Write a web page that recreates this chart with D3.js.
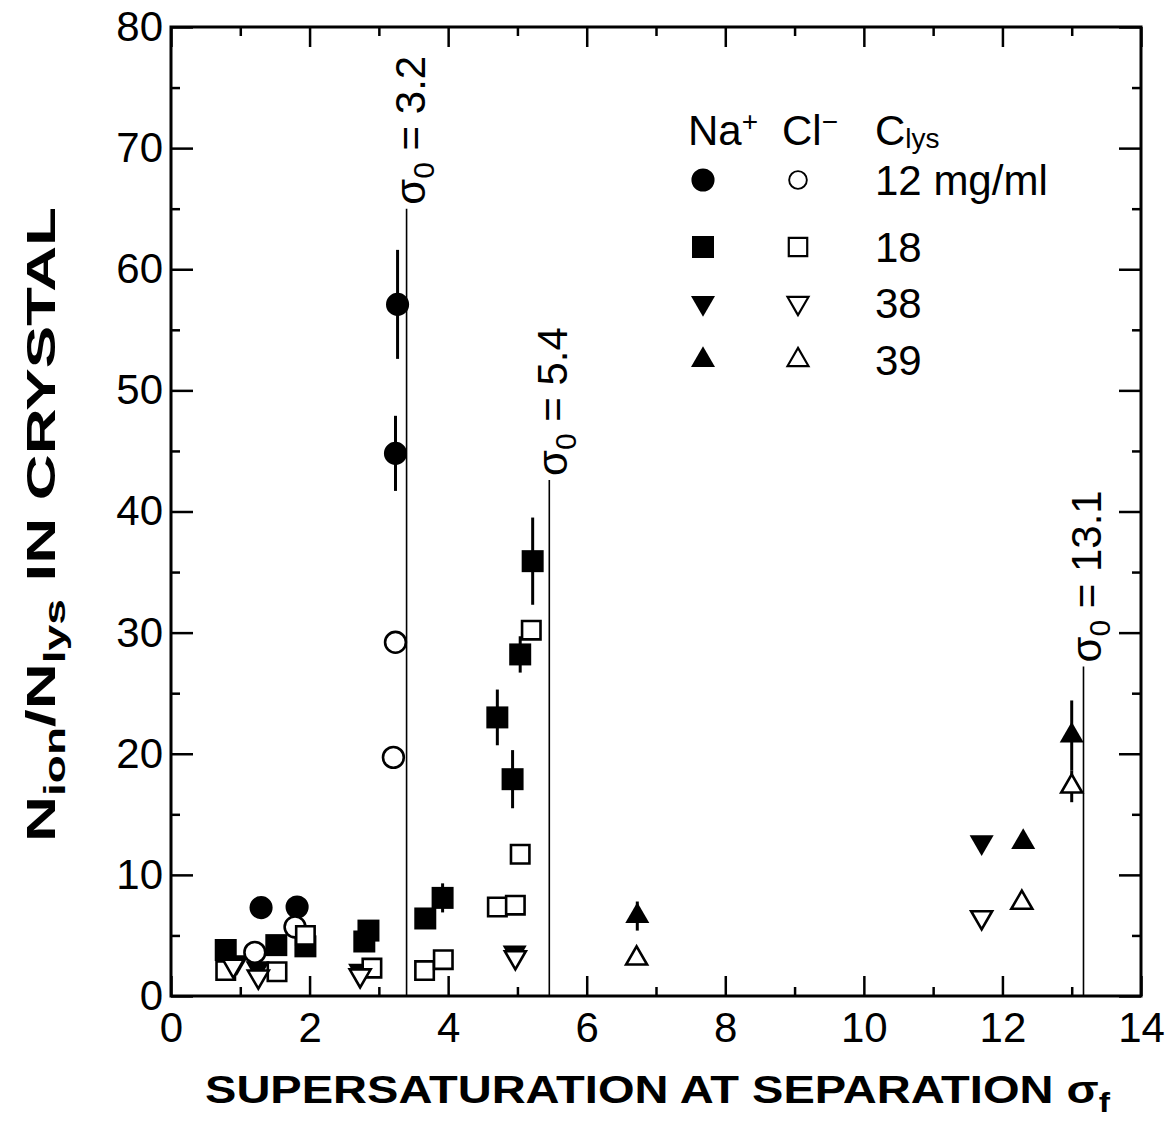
<!DOCTYPE html>
<html>
<head>
<meta charset="utf-8">
<script src="https://cdn.jsdelivr.net/npm/d3@7"></script>
<style>
  body { margin: 0; background: #fff; }
  text { font-family: "Liberation Sans", Arial, sans-serif; fill: #000; }
</style>
</head>
<body>
<div id="wrapper"></div>
<script>
// values: [sigma_f, N_ion/N_lys, error]
const na12 = [[1.30, 7.3, 0], [1.82, 7.35, 0], [3.24, 44.8, 3.1], [3.27, 57.1, 4.5]];
const cl12 = [[1.21, 3.6, 0], [1.79, 5.7, 0], [3.21, 19.7, 0], [3.24, 29.2, 0]];
const na18 = [[0.79, 3.8, 0], [1.52, 4.2, 0], [1.94, 4.1, 0], [2.79, 4.5, 0], [2.85, 5.4, 0],
              [3.67, 6.4, 0], [3.92, 8.1, 1.2], [4.71, 23.0, 2.3], [4.93, 17.9, 2.4],
              [5.04, 28.2, 1.5], [5.22, 35.9, 3.6]];
const cl18 = [[0.79, 2.1, 0], [1.53, 2.0, 0], [1.94, 5.0, 0], [2.90, 2.3, 0], [3.66, 2.1, 0],
              [3.93, 3.0, 0], [4.71, 7.35, 0], [4.97, 7.5, 0], [5.04, 11.7, 0], [5.20, 30.2, 0]];
const na38 = [[0.95, 2.8, 0], [1.25, 2.3, 0], [2.73, 2.1, 0], [4.96, 3.6, 0], [11.7, 12.7, 0]];
const cl38 = [[0.90, 2.5, 0], [1.26, 1.6, 0], [2.73, 1.7, 0], [4.97, 3.2, 0], [11.7, 6.5, 0]];
const na39 = [[6.73, 6.6, 1.2], [12.3, 12.7, 0], [13.0, 21.5, 2.9]];
const cl39 = [[6.72, 3.1, 0], [12.28, 7.7, 0], [13.0, 17.3, 1.3]];

const legendLabels = ["12 mg/ml", "18", "38", "39"];

const xTicks = [0, 2, 4, 6, 8, 10, 12, 14];
const xMinor = [1, 3, 5, 7, 9, 11, 13];
const yTicks = [0, 10, 20, 30, 40, 50, 60, 70, 80];
const yMinor = [5, 15, 25, 35, 45, 55, 65, 75];

// sigma_0 markers: where the lines stand, how high they reach, what they say
const sigmaX = [3.40, 5.46, 13.17];
const sigmaTop = [65.0, 42.6, 27.2];
const sigmaLabels = ["3.2", "5.4", "13.1"];

async function draw() {
  const dimensions = {
    width: 1172,
    height: 1142,
    margin: { top: 27, right: 31, bottom: 146, left: 171 }
  };
  dimensions.boundedWidth = dimensions.width - dimensions.margin.left - dimensions.margin.right;
  dimensions.boundedHeight = dimensions.height - dimensions.margin.top - dimensions.margin.bottom;

  const svg = d3.select("#wrapper")
    .append("svg")
      .attr("width", dimensions.width)
      .attr("height", dimensions.height);

  const bounds = svg.append("g")
    .attr("transform", "translate(" + dimensions.margin.left + "," + dimensions.margin.top + ")");

  const x = d3.scaleLinear().domain([0, 14]).range([0, dimensions.boundedWidth]);
  const y = d3.scaleLinear().domain([0, 80]).range([dimensions.boundedHeight, 0]);

  // Axes (ticks point inward on all four sides)
  const axisStyle = g => {
    g.selectAll(".domain").remove();
    g.selectAll(".tick line").attr("stroke", "black").attr("stroke-width", 2.5);
    g.selectAll("text").style("font-size", "42px");
  };

  bounds.append("g")
    .attr("transform", "translate(0," + dimensions.boundedHeight + ")")
    .call(d3.axisBottom(x).tickValues(xTicks).tickSize(-20).tickPadding(16).tickFormat(d3.format("d")))
    .call(axisStyle);
  bounds.append("g")
    .attr("transform", "translate(0," + dimensions.boundedHeight + ")")
    .call(d3.axisBottom(x).tickValues(xMinor).tickSize(-9).tickFormat(""))
    .call(axisStyle);
  bounds.append("g")
    .call(d3.axisTop(x).tickValues(xTicks).tickSize(-20).tickFormat(""))
    .call(axisStyle);
  bounds.append("g")
    .call(d3.axisTop(x).tickValues(xMinor).tickSize(-9).tickFormat(""))
    .call(axisStyle);

  bounds.append("g")
    .call(d3.axisLeft(y).tickValues(yTicks).tickSize(-22).tickPadding(8).tickFormat(d3.format("d")))
    .call(axisStyle);
  bounds.append("g")
    .call(d3.axisLeft(y).tickValues(yMinor).tickSize(-9).tickFormat(""))
    .call(axisStyle);
  bounds.append("g")
    .attr("transform", "translate(" + dimensions.boundedWidth + ",0)")
    .call(d3.axisRight(y).tickValues(yTicks).tickSize(-22).tickFormat(""))
    .call(axisStyle);
  bounds.append("g")
    .attr("transform", "translate(" + dimensions.boundedWidth + ",0)")
    .call(d3.axisRight(y).tickValues(yMinor).tickSize(-9).tickFormat(""))
    .call(axisStyle);

  bounds.append("rect")
    .attr("width", dimensions.boundedWidth)
    .attr("height", dimensions.boundedHeight)
    .attr("fill", "none")
    .attr("stroke", "black")
    .attr("stroke-width", 3);

  // sigma_0 lines + rotated labels
  const sigma = bounds.selectAll(".sigma")
    .data(sigmaX)
    .join("g")
      .attr("class", "sigma");
  sigma.append("line")
    .attr("x1", d => x(d))
    .attr("x2", d => x(d))
    .attr("y1", y(0))
    .attr("y2", (d, i) => y(sigmaTop[i]))
    .attr("stroke", "black")
    .attr("stroke-width", 1.6);
  const sigmaText = sigma.append("text")
    .attr("transform", (d, i) => "translate(" + (x(d) + 18) + "," + (y(sigmaTop[i]) - 4) + ") rotate(-90)")
    .style("font-size", "42px");
  sigmaText.append("tspan").text("σ");
  sigmaText.append("tspan").attr("dy", 9).style("font-size", "30px").text("0");
  sigmaText.append("tspan").attr("dy", -9).text((d, i) => " = " + sigmaLabels[i]);

  // markers
  const series = [
    { data: na12, sym: d3.symbol(d3.symbolCircle, 420), rot: 0, fill: "black" },
    { data: na18, sym: d3.symbol(d3.symbolSquare, 484), rot: 0, fill: "black" },
    { data: na38, sym: d3.symbol(d3.symbolTriangle, 250), rot: 180, fill: "black" },
    { data: na39, sym: d3.symbol(d3.symbolTriangle, 250), rot: 0, fill: "black" },
    { data: cl12, sym: d3.symbol(d3.symbolCircle, 340), rot: 0, fill: "white" },
    { data: cl18, sym: d3.symbol(d3.symbolSquare, 340), rot: 0, fill: "white" },
    { data: cl38, sym: d3.symbol(d3.symbolTriangle, 190), rot: 180, fill: "white" },
    { data: cl39, sym: d3.symbol(d3.symbolTriangle, 190), rot: 0, fill: "white" }
  ];

  series.forEach(s => {
    const g = bounds.append("g");
    g.selectAll("line")
      .data(s.data.filter(d => d[2] > 0))
      .join("line")
        .attr("x1", d => x(d[0]))
        .attr("x2", d => x(d[0]))
        .attr("y1", d => y(d[1] - d[2]))
        .attr("y2", d => y(d[1] + d[2]))
        .attr("stroke", "black")
        .attr("stroke-width", 3);
    g.selectAll("path")
      .data(s.data)
      .join("path")
        .attr("d", s.sym())
        .attr("transform", d => "translate(" + x(d[0]) + "," + y(d[1]) + ") rotate(" + s.rot + ")")
        .attr("fill", s.fill)
        .attr("stroke", "black")
        .attr("stroke-width", s.fill == "black" ? 0 : 2.6);
  });

  // legend
  const legend = svg.append("g").attr("transform", "translate(688,0)");
  const head = legend.append("text").attr("y", 145).style("font-size", "42px");
  head.append("tspan").text("Na");
  head.append("tspan").attr("dy", -14).style("font-size", "28px").text("+");
  head.append("tspan").attr("x", 94).attr("dy", 14).text("Cl");
  head.append("tspan").attr("dy", -14).style("font-size", "28px").text("−");
  head.append("tspan").attr("x", 187).attr("dy", 14).text("C");
  head.append("tspan").attr("dy", 3).style("font-size", "28px").text("lys");

  const rowY = [180, 247, 303, 360];
  const legendRows = legend.selectAll(".row")
    .data(legendLabels)
    .join("g")
      .attr("class", "row")
      .attr("transform", (d, i) => "translate(0," + rowY[i] + ")");
  legendRows.append("path")
    .attr("d", (d, i) => series[i].sym())
    .attr("transform", (d, i) => "translate(15,0) rotate(" + series[i].rot + ")")
    .attr("fill", "black");
  legendRows.append("path")
    .attr("d", (d, i) => series[i + 4].sym())
    .attr("transform", (d, i) => "translate(110,0) scale(" + (i == 0 ? 0.85 : 1) + ") rotate(" + series[i + 4].rot + ")")
    .attr("fill", "white")
    .attr("stroke", "black")
    .attr("stroke-width", 2.2);
  legendRows.append("text")
    .attr("x", 187)
    .attr("y", 15)
    .style("font-size", "42px")
    .text(d => d);

  // axis titles
  const xTitle = svg.append("text")
    .attr("x", 205)
    .attr("y", 1103)
    .attr("textLength", 905)
    .attr("lengthAdjust", "spacingAndGlyphs")
    .style("font-size", "39px")
    .style("font-weight", "bold");
  xTitle.append("tspan").text("SUPERSATURATION AT SEPARATION σ");
  xTitle.append("tspan").attr("dy", 9).style("font-size", "28px").text("f");

  const yTitle = svg.append("text")
    .attr("transform", "translate(55,842) rotate(-90)")
    .attr("textLength", 635)
    .attr("lengthAdjust", "spacingAndGlyphs")
    .style("font-size", "40px")
    .style("font-weight", "bold");
  yTitle.append("tspan").text("N");
  yTitle.append("tspan").attr("dy", 10).style("font-size", "29px").text("ion");
  yTitle.append("tspan").attr("dy", -10).text("/N");
  yTitle.append("tspan").attr("dy", 10).style("font-size", "29px").text("lys");
  yTitle.append("tspan").attr("dy", -10).text(" IN CRYSTAL");
}
draw();
</script>
</body>
</html>
